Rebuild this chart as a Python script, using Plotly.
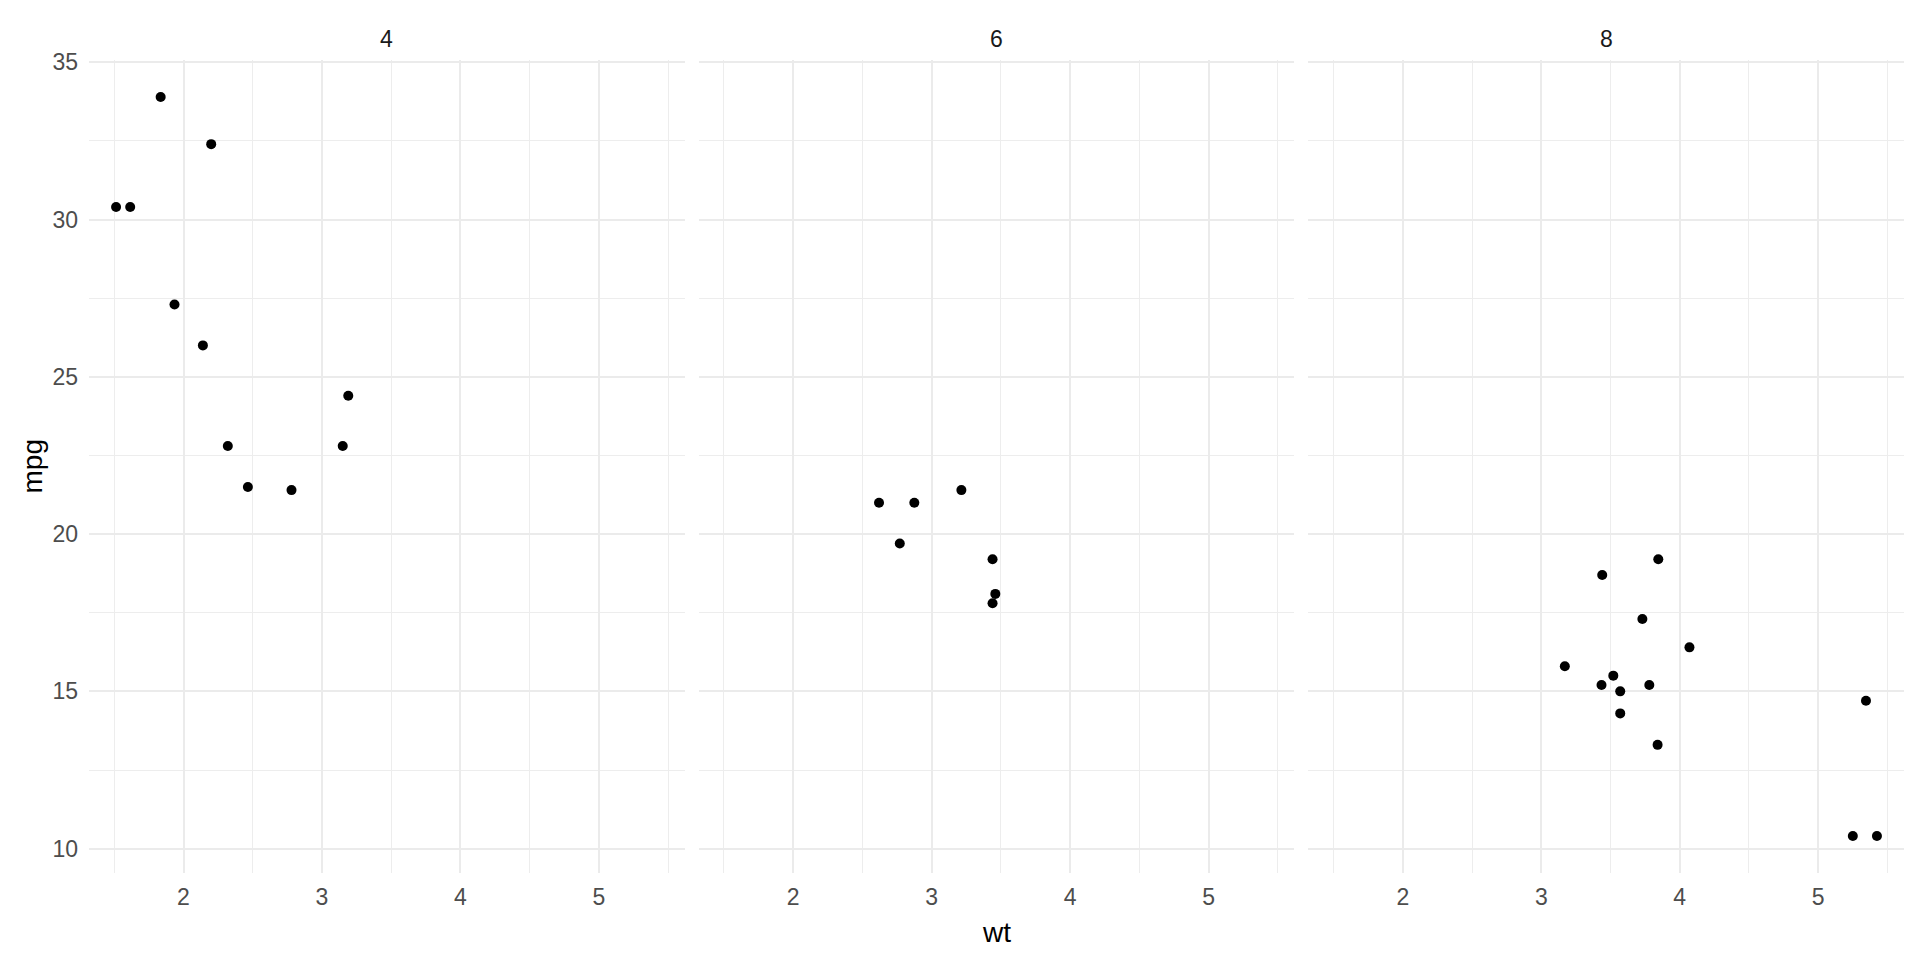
import plotly.graph_objects as go
from plotly.subplots import make_subplots

cyl_levels = ["4", "6", "8"]
wt_4 = [2.320, 3.190, 3.150, 2.200, 1.615, 1.835, 2.465, 1.935, 2.140, 1.513, 2.780]
mpg_4 = [22.8, 24.4, 22.8, 32.4, 30.4, 33.9, 21.5, 27.3, 26.0, 30.4, 21.4]
wt_6 = [2.620, 2.875, 3.215, 3.460, 3.440, 3.440, 2.770]
mpg_6 = [21.0, 21.0, 21.4, 18.1, 19.2, 17.8, 19.7]
wt_8 = [3.440, 3.570, 4.070, 3.730, 3.780, 5.250, 5.424, 5.345, 3.520, 3.435, 3.840, 3.845, 3.170, 3.570]
mpg_8 = [18.7, 14.3, 16.4, 17.3, 15.2, 10.4, 10.4, 14.7, 15.5, 15.2, 13.3, 19.2, 15.8, 15.0]
x_ticks = [2, 3, 4, 5]
y_ticks = [10, 15, 20, 25, 30, 35]

groups = [(wt_4, mpg_4), (wt_6, mpg_6), (wt_8, mpg_8)]
all_wt = wt_4 + wt_6 + wt_8
all_mpg = mpg_4 + mpg_6 + mpg_8
xr = max(all_wt) - min(all_wt)
yr = max(all_mpg) - min(all_mpg)
x_range = [min(all_wt) - 0.05 * xr, max(all_wt) + 0.05 * xr]
y_range = [min(all_mpg) - 0.05 * yr, max(all_mpg) + 0.05 * yr]

W, H = 1904, 944
ML, MR, MT, MB = 81, 8, 52, 79
plot_w = W - ML - MR

fig = make_subplots(rows=1, cols=3, shared_yaxes=True, horizontal_spacing=14 / plot_w)

FONT = "Liberation Sans, Arial, sans-serif"
for i, (wx, my) in enumerate(groups):
    fig.add_trace(go.Scatter(x=wx, y=my, mode="markers",
                             marker=dict(color="black", size=10, line=dict(width=0)),
                             showlegend=False), row=1, col=i + 1)
    fig.update_xaxes(range=x_range, tickvals=x_ticks, showgrid=True,
                     gridcolor="#EBEBEB", gridwidth=1.8, zeroline=False,
                     showline=False, ticks="", ticklabelstandoff=8,
                     minor=dict(showgrid=True, gridcolor="#EDEDED", gridwidth=0.9, dtick=0.5, tick0=1.5),
                     tickfont=dict(size=23, color="#4D4D4D", family=FONT),
                     row=1, col=i + 1)
    fig.add_annotation(text=cyl_levels[i], xref=f"x{'' if i == 0 else i + 1} domain",
                       yref="paper", x=0.5, y=1, yshift=21, yanchor="middle",
                       showarrow=False, font=dict(size=23, color="#1A1A1A", family=FONT))

fig.update_yaxes(range=y_range, tickvals=y_ticks, showgrid=True, gridcolor="#EBEBEB",
                 gridwidth=1.8, zeroline=False, showline=False, ticks="",
                 minor=dict(showgrid=True, gridcolor="#EDEDED", gridwidth=0.9, dtick=5, tick0=12.5),
                 tickfont=dict(size=23, color="#4D4D4D", family=FONT))
fig.update_yaxes(ticklabelstandoff=10, row=1, col=1)

fig.add_annotation(text="wt", xref="paper", yref="paper", x=0.5, y=0, yshift=-59,
                   yanchor="middle", showarrow=False,
                   font=dict(size=28, color="black", family=FONT))
fig.add_annotation(text="mpg", xref="paper", yref="paper", x=0, y=0.5, xshift=-57,
                   xanchor="center", yanchor="middle", textangle=-90, showarrow=False,
                   font=dict(size=28, color="black", family=FONT))

fig.update_layout(width=W, height=H, plot_bgcolor="white", paper_bgcolor="white",
                  margin=dict(l=ML, r=MR, t=MT, b=MB))

fig.write_html("out.html")
